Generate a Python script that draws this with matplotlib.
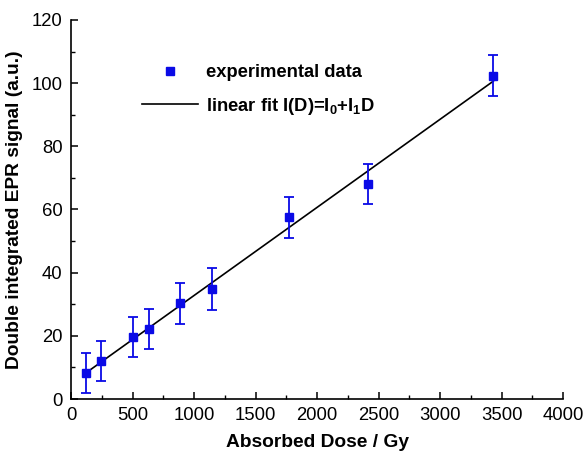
import numpy as np
import matplotlib
matplotlib.use("Agg")
import matplotlib.pyplot as plt
from matplotlib.lines import Line2D
from matplotlib.ticker import MultipleLocator

plt.rcParams['font.family'] = ['Liberation Sans', 'DejaVu Sans']
plt.rcParams['mathtext.fontset'] = 'custom'
plt.rcParams['mathtext.rm'] = 'Liberation Sans:bold'
plt.rcParams['mathtext.bf'] = 'Liberation Sans:bold'
plt.rcParams['mathtext.it'] = 'Liberation Sans:bold'

dose = [122, 244, 507, 637, 886, 1146, 1775, 2417, 3433]
signal = [8.3, 12.0, 19.7, 22.2, 30.3, 34.8, 57.5, 68.1, 102.4]
signal_err = [6.3, 6.4, 6.4, 6.4, 6.5, 6.7, 6.4, 6.3, 6.6]

xticks = [0, 500, 1000, 1500, 2000, 2500, 3000, 3500, 4000]
yticks = [0, 20, 40, 60, 80, 100, 120]

fig = plt.figure(figsize=(5.88, 4.54), dpi=100)
ax = fig.add_axes([71/588, 55/454, (563-71)/588, (434-55)/454])

blue = '#0a0ae6'
ax.errorbar(dose, signal, yerr=signal_err, fmt='s', color=blue, ms=6,
            ecolor=blue, elinewidth=1.3, capsize=3.3, capthick=1.3, zorder=3)

coef = np.polyfit(dose, signal, 1)
xf = np.array([min(dose), max(dose)])
ax.plot(xf, np.polyval(coef, xf), color='black', lw=1.2, zorder=2)

ax.set_xlim(0, 4000)
ax.set_ylim(0, 120)
ax.set_xticks(xticks)
ax.set_yticks(yticks)
ax.xaxis.set_minor_locator(MultipleLocator(250))
ax.yaxis.set_minor_locator(MultipleLocator(10))
ax.tick_params(which='major', direction='in', length=5, width=1.1, labelsize=13.3, pad=6, colors='black')
ax.tick_params(which='minor', direction='in', length=3, width=1.0)
for s in ['top', 'right']:
    ax.spines[s].set_visible(False)
for s in ['left', 'bottom']:
    ax.spines[s].set_linewidth(1.2)

ax.set_xlabel('Absorbed Dose / Gy', fontsize=13.8, fontweight='bold', labelpad=7)
ax.set_ylabel('Double integrated EPR signal (a.u.)', fontsize=13.8, fontweight='bold', labelpad=6)

handles = [Line2D([], [], marker='s', color=blue, ls='none', ms=6),
           Line2D([], [], color='black', lw=1.2)]
labels = ['experimental data', r'linear fit I(D)=I$_\mathbf{0}$+I$_\mathbf{1}$D']
leg = ax.legend(handles, labels, loc='upper left', bbox_to_anchor=(0.11, 0.927),
                frameon=False, handlelength=3.05, handletextpad=0.45, labelspacing=0.8,
                prop={'weight': 'bold', 'size': 13.2})

fig.savefig('out.png', dpi=100)
